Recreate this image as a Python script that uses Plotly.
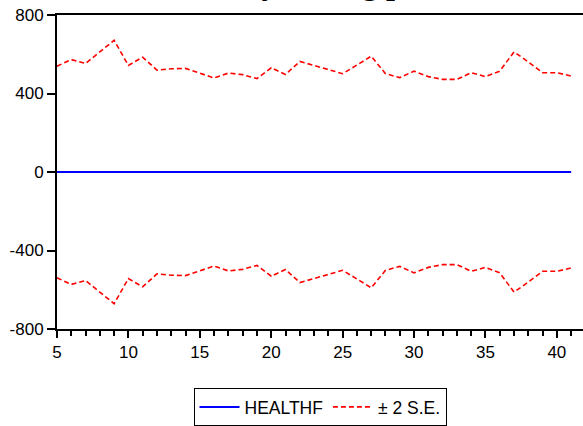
import plotly.graph_objects as go

periods = list(range(5, 42))
healthf = [0] * len(periods)
se_upper = [539, 573, 553, 610, 671, 543, 585, 519, 526, 528,
            502, 479, 504, 496, 476, 531, 497, 563, 543, 521,
            501, 545, 590, 501, 481, 514, 486, 472, 472, 506,
            486, 514, 612, 561, 506, 506, 489]
se_lower = [-v for v in se_upper]

y_ticks = [800, 400, 0, -400, -800]
y_labels = ["800", "400", "0", "-400", "-800"]
x_ticks = [5, 10, 15, 20, 25, 30, 35, 40]

fig = go.Figure()
fig.add_trace(go.Scatter(x=periods, y=healthf, mode="lines", name="HEALTHF",
                         line=dict(color="#0000FF", width=2)))
fig.add_trace(go.Scatter(x=periods, y=se_upper, mode="lines", name="± 2 S.E.",
                         line=dict(color="#FF0000", width=1.6, dash="5px,3px")))
fig.add_trace(go.Scatter(x=periods, y=se_lower, mode="lines", showlegend=False,
                         line=dict(color="#FF0000", width=1.6, dash="5px,3px")))

axis_font = dict(family="Liberation Sans, Arial", size=17, color="black")

fig.update_layout(
    width=583, height=426,
    margin=dict(l=57, r=0, t=15, b=94),
    paper_bgcolor="white", plot_bgcolor="white",
    showlegend=True,
    legend=dict(orientation="h", x=0.5, xanchor="center", y=-0.189, yanchor="top",
                bordercolor="black", borderwidth=1,
                font=dict(family="Liberation Sans, Arial", size=17.5, color="black"),
                itemwidth=40),
    xaxis=dict(range=[5, 41.83], tickvals=x_ticks, ticks="outside", ticklen=7,
               tickwidth=2, tickcolor="black", showline=True, linewidth=2,
               linecolor="black", mirror=True, showgrid=False, zeroline=False,
               tickfont=axis_font,
               minor=dict(dtick=1, tick0=5, ticks="outside", ticklen=5,
                          tickwidth=2, tickcolor="black", showgrid=False)),
    yaxis=dict(range=[-800, 800], tickvals=y_ticks, ticktext=y_labels,
               ticks="outside", ticklen=8,
               tickwidth=2, tickcolor="black", showline=True, linewidth=2,
               linecolor="black", showgrid=False, zeroline=False,
               tickfont=axis_font),
    annotations=[dict(text="<b>Stability during pandemic</b>", xref="paper", yref="paper",
                      x=(340 - 57) / 526, y=(332 - 3) / 317, xanchor="center",
                      yanchor="bottom", showarrow=False,
                      font=dict(family="Liberation Serif, Times New Roman", size=32,
                                color="black"))],
)

fig.write_html("out.html")
